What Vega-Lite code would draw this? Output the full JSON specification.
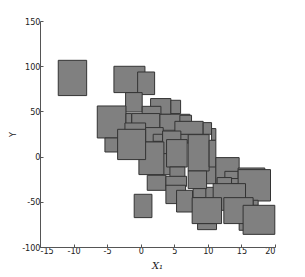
{
  "$schema": "https://vega.github.io/schema/vega-lite/v6.json",
  "width": 235,
  "height": 226,
  "autosize": {"type": "none"},
  "padding": {"left": 40, "top": 21, "right": 30, "bottom": 30},
  "background": "white",
  "config": {"view": {"stroke": null}},
  "data": {"values": [
    {"x1": 3.2, "x2": 4.5, "y1": -20.0, "y2": 5.0},
    {"x1": 5.8, "x2": 7.2, "y1": 15.0, "y2": 25.0},
    {"x1": 9.5, "x2": 11.2, "y1": -30.0, "y2": -10.0},
    {"x1": 9.5, "x2": 11.0, "y1": -46.0, "y2": -34.0},
    {"x1": -12.28, "x2": -8.05, "y1": 67.5, "y2": 106.5},
    {"x1": -3.99, "x2": 0.63, "y1": 70.8, "y2": 99.9},
    {"x1": -0.46, "x2": 2.07, "y1": 68.6, "y2": 93.6},
    {"x1": -2.25, "x2": 0.22, "y1": 49.3, "y2": 70.8},
    {"x1": -6.47, "x2": -2.2, "y1": 20.6, "y2": 56.0},
    {"x1": -5.33, "x2": -3.35, "y1": 5.1, "y2": 20.6},
    {"x1": 1.47, "x2": 4.49, "y1": 46.8, "y2": 64.2},
    {"x1": 4.49, "x2": 5.94, "y1": 47.6, "y2": 62.3},
    {"x1": 0.22, "x2": 3.01, "y1": 45.7, "y2": 55.6},
    {"x1": -1.35, "x2": 2.86, "y1": 29.1, "y2": 47.6},
    {"x1": -2.2, "x2": -1.35, "y1": 36.5, "y2": 47.6},
    {"x1": 2.86, "x2": 7.32, "y1": 29.1, "y2": 46.8},
    {"x1": 5.83, "x2": 7.57, "y1": 38.3, "y2": 45.7},
    {"x1": 5.09, "x2": 9.3, "y1": 24.7, "y2": 39.0},
    {"x1": 9.3, "x2": 10.55, "y1": 24.7, "y2": 37.6},
    {"x1": 10.55, "x2": 11.19, "y1": 18.0, "y2": 31.0},
    {"x1": -2.35, "x2": 0.73, "y1": 29.1, "y2": 37.2},
    {"x1": 0.73, "x2": 3.35, "y1": 16.2, "y2": 32.1},
    {"x1": 1.86, "x2": 3.26, "y1": 16.9, "y2": 24.7},
    {"x1": 3.26, "x2": 5.98, "y1": 3.3, "y2": 28.3},
    {"x1": 3.85, "x2": 6.92, "y1": -11.5, "y2": 18.8},
    {"x1": -0.27, "x2": 3.45, "y1": -19.9, "y2": 16.2},
    {"x1": -3.44, "x2": 0.73, "y1": -3.3, "y2": 30.2},
    {"x1": 0.97, "x2": 3.75, "y1": -37.3, "y2": -20.7},
    {"x1": 4.35, "x2": 6.58, "y1": -22.6, "y2": -11.5},
    {"x1": 3.75, "x2": 6.83, "y1": -32.9, "y2": -21.8},
    {"x1": 3.75, "x2": 6.68, "y1": -52.0, "y2": -31.7},
    {"x1": 5.34, "x2": 7.72, "y1": -61.3, "y2": -37.3},
    {"x1": 7.07, "x2": 10.19, "y1": -15.9, "y2": 24.3},
    {"x1": 10.19, "x2": 11.19, "y1": -11.5, "y2": 18.0},
    {"x1": 7.07, "x2": 9.81, "y1": -35.4, "y2": -15.9},
    {"x1": 7.81, "x2": 9.7, "y1": -45.4, "y2": -35.4},
    {"x1": 11.19, "x2": 14.66, "y1": -29.9, "y2": -1.1},
    {"x1": 12.53, "x2": 14.51, "y1": -24.3, "y2": -16.3},
    {"x1": 11.38, "x2": 13.53, "y1": -31.7, "y2": -23.2},
    {"x1": 14.51, "x2": 18.48, "y1": -16.3, "y2": -12.6},
    {"x1": 14.51, "x2": 19.33, "y1": -49.1, "y2": -14.4},
    {"x1": 10.79, "x2": 15.61, "y1": -59.4, "y2": -29.9},
    {"x1": 16.74, "x2": 17.49, "y1": -53.9, "y2": -48.3},
    {"x1": 8.47, "x2": 11.29, "y1": -80.8, "y2": -74.1},
    {"x1": 7.66, "x2": 12.04, "y1": -74.1, "y2": -45.4},
    {"x1": 14.66, "x2": 15.36, "y1": -81.5, "y2": -73.5},
    {"x1": 12.38, "x2": 16.74, "y1": -74.1, "y2": -45.4},
    {"x1": 15.25, "x2": 19.97, "y1": -86.0, "y2": -53.9},
    {"x1": -0.97, "x2": 1.67, "y1": -67.5, "y2": -41.7}
  ]},
  "mark": {"type": "rect", "fill": "#808080", "stroke": "#333333", "strokeWidth": 1},
  "encoding": {
    "x": {"field": "x1", "type": "quantitative",
      "scale": {"domain": [-15, 20], "nice": false, "zero": false},
      "axis": {"title": "X₁", "values": [-15, -10, -5, 0, 5, 10, 15, 20], "grid": false,
        "labelExpr": "toString(datum.value)",
        "domainColor": "#555555", "tickColor": "#555555", "tickSize": -3,
        "labelFont": "'Liberation Sans Narrow', 'DejaVu Sans Condensed', 'Liberation Sans', sans-serif", "labelFontSize": 9, "labelColor": "#222222", "labelPadding": 2,
        "titleFont": "DejaVu Serif", "titleFontStyle": "italic", "titleFontWeight": "normal", "titleFontSize": 10,
        "titleColor": "#222222", "titleX": 117, "titleY": 18, "titleBaseline": "middle", "titleAnchor": "middle"}},
    "x2": {"field": "x2"},
    "y": {"field": "y1", "type": "quantitative",
      "scale": {"domain": [-100, 150], "nice": false, "zero": false},
      "axis": {"title": "Y", "values": [-100, -50, 0, 50, 100, 150], "grid": false,
        "labelExpr": "toString(datum.value)",
        "domainColor": "#555555", "tickColor": "#555555", "tickSize": -3,
        "labelFont": "'Liberation Sans Narrow', 'DejaVu Sans Condensed', 'Liberation Sans', sans-serif", "labelFontSize": 9, "labelColor": "#222222", "labelPadding": 3,
        "titleFont": "'Liberation Sans Narrow', 'DejaVu Sans Condensed', 'Liberation Sans', sans-serif", "titleFontWeight": "normal", "titleFontSize": 9,
        "titleColor": "#222222", "titleX": -28, "titleY": 113, "titleBaseline": "middle", "titleAnchor": "middle"}},
    "y2": {"field": "y2"}
  }
}
